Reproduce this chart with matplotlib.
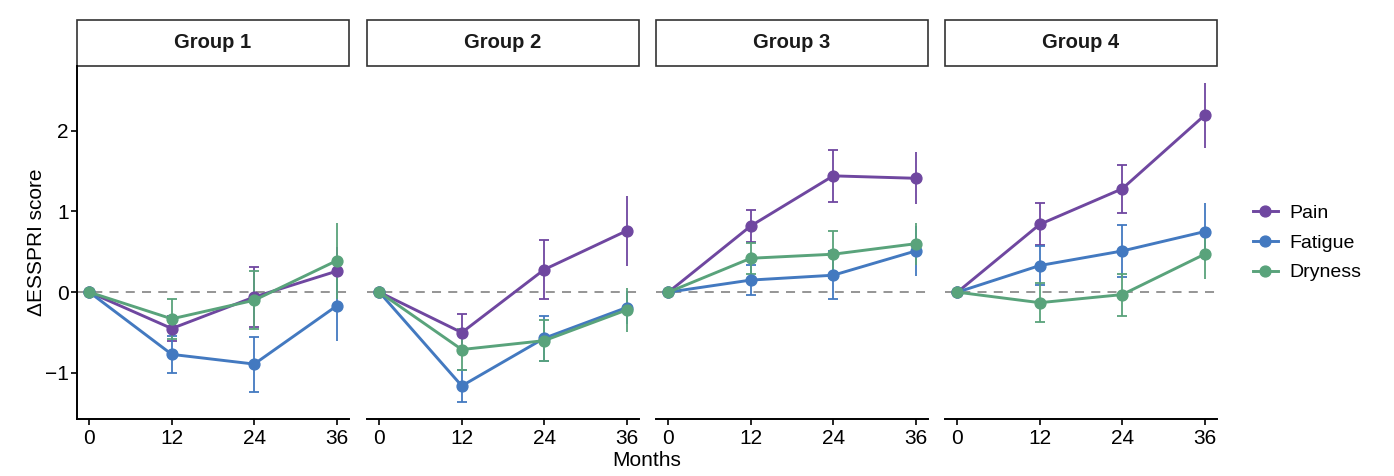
import numpy as np
import matplotlib
matplotlib.use('Agg')
import matplotlib.pyplot as plt
from matplotlib.patches import Rectangle
from matplotlib.lines import Line2D

plt.rcParams['font.family'] = ['Liberation Sans', 'DejaVu Sans']

months = [0, 12, 24, 36]
groups = ['Group 1', 'Group 2', 'Group 3', 'Group 4']
symptoms = ['Pain', 'Fatigue', 'Dryness']
colors = {'Pain': '#6f47a0', 'Fatigue': '#4379c0', 'Dryness': '#59a37b'}

# mean change per group (rows) and month
pain = [[0, -0.45, -0.06, 0.26],
        [0, -0.50, 0.28, 0.76],
        [0, 0.82, 1.44, 1.41],
        [0, 0.84, 1.28, 2.19]]
fatigue = [[0, -0.77, -0.89, -0.17],
           [0, -1.16, -0.57, -0.19],
           [0, 0.15, 0.21, 0.51],
           [0, 0.33, 0.51, 0.75]]
dryness = [[0, -0.33, -0.10, 0.39],
           [0, -0.71, -0.60, -0.22],
           [0, 0.42, 0.47, 0.60],
           [0, -0.13, -0.03, 0.47]]

# half-width of error bars
pain_err = [[0, 0.16, 0.37, 0.30],
            [0, 0.23, 0.37, 0.43],
            [0, 0.20, 0.32, 0.32],
            [0, 0.26, 0.30, 0.40]]
fatigue_err = [[0, 0.23, 0.34, 0.44],
               [0, 0.20, 0.28, 0.20],
               [0, 0.19, 0.30, 0.31],
               [0, 0.24, 0.32, 0.36]]
dryness_err = [[0, 0.25, 0.36, 0.47],
               [0, 0.25, 0.25, 0.27],
               [0, 0.19, 0.29, 0.26],
               [0, 0.24, 0.26, 0.31]]

means = {'Pain': pain, 'Fatigue': fatigue, 'Dryness': dryness}
errs = {'Pain': pain_err, 'Fatigue': fatigue_err, 'Dryness': dryness_err}

W, H = 1394, 476
fig = plt.figure(figsize=(W / 100, H / 100), dpi=100)

lefts = [77, 367, 656, 945]
ax_w = 272
top_px, bot_px = 66, 419
strip_top = 20

x = np.array(months)
for g, left in enumerate(lefts):
    ax = fig.add_axes([left / W, 1 - bot_px / H, ax_w / W, (bot_px - top_px) / H])
    ax.set_xlim(-1.8, 37.8)
    ax.set_ylim(-1.57, 2.80)
    ax.axhline(0, color='#8c8c8c', lw=1.3, ls=(0, (5, 4)), zorder=1)

    for s in symptoms:
        m = np.array(means[s][g])
        e = np.array(errs[s][g])
        c = colors[s]
        # caps at 12 and 24, plain bars at 36
        ax.errorbar(x[1:3], m[1:3], yerr=e[1:3], fmt='none', ecolor=c,
                    elinewidth=1.3, capsize=3.6, capthick=1.3, zorder=2)
        ax.errorbar(x[3:], m[3:], yerr=e[3:], fmt='none', ecolor=c,
                    elinewidth=1.3, capsize=0, zorder=2)
        ax.plot(x, m, color=c, lw=2.1, marker='o', ms=7.8, zorder=3)

    for sp in ['top', 'right']:
        ax.spines[sp].set_visible(False)
    ax.spines['bottom'].set_linewidth(1.4)
    ax.set_xticks(months)
    ax.tick_params(axis='x', length=4, width=1.2, labelsize=15, pad=3)
    if g == 0:
        ax.spines['left'].set_linewidth(1.4)
        ax.set_yticks([-1, 0, 1, 2])
        ax.set_yticklabels(['\u22121', '0', '1', '2'])
        ax.tick_params(axis='y', length=4, width=1.2, labelsize=15, pad=2)
        ax.set_ylabel('\u0394ESSPRI score', fontsize=15)
        ax.yaxis.set_label_coords((46 - left) / ax_w, 0.5)
    else:
        ax.spines['left'].set_visible(False)
        ax.set_yticks([])

    sh = (top_px - strip_top) / (bot_px - top_px)
    ax.add_patch(Rectangle((0, 1), 1, sh, transform=ax.transAxes, fill=False,
                           edgecolor='#333333', lw=1.2, clip_on=False))
    ax.text(0.5, 1 + sh / 2, groups[g], transform=ax.transAxes, ha='center',
            va='center', fontsize=14.5, fontweight='bold', color='#1a1a1a')

fig.text(647 / W, 1 - 460 / H, 'Months', ha='center', va='center', fontsize=15)

handles = [Line2D([0], [0], color=colors[s], lw=2.1, marker='o', ms=7.8) for s in symptoms]
fig.legend(handles, symptoms, loc='center left', bbox_to_anchor=(1235 / W, 1 - 243 / H),
           frameon=False, fontsize=14, handlelength=1.3, handletextpad=0.6,
           labelspacing=0.62)

fig.savefig('out.png', dpi=100)
